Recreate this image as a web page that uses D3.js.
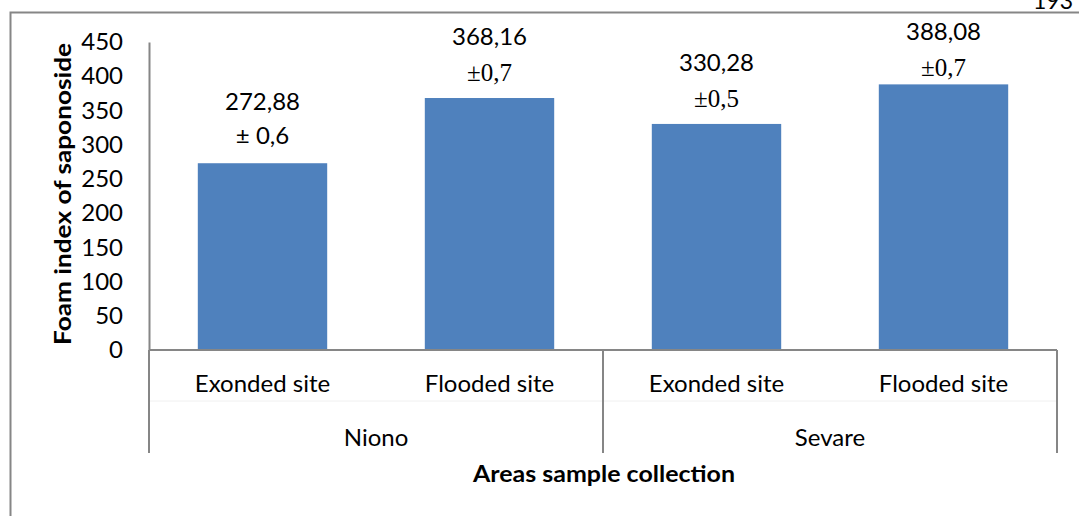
<!DOCTYPE html>
<html>
<head>
<meta charset="utf-8">
<script src="https://cdn.jsdelivr.net/npm/d3@7/dist/d3.min.js"></script>
<style>
  html, body { margin: 0; padding: 0; background: #fff; }
  svg { display: block; }
</style>
</head>
<body>
<svg id="chart" width="1079" height="516"></svg>
<script>
// Foam index of saponoside by sampling area and site type
const areas = ["Niono", "Sevare"];
const sites = ["Exonded site", "Flooded site", "Exonded site", "Flooded site"];
const siteArea = ["Niono", "Niono", "Sevare", "Sevare"];
const values = [272.88, 368.16, 330.28, 388.08];
const valueLabels = ["272,88", "368,16", "330,28", "388,08"];
const errorLabels = ["\u00b1 0,6", "\u00b10,7", "\u00b10,5", "\u00b10,7"];
const yTicks = [0, 50, 100, 150, 200, 250, 300, 350, 400, 450];

const svg = d3.select("#chart");
const sans = "Lato, 'Open Sans', sans-serif";
const serif = "'Liberation Serif', 'DejaVu Serif', serif";
const grey = "#868686";

// page number in the corner
svg.append("text")
  .attr("x", 1033).attr("y", 9)
  .attr("font-family", sans).attr("font-size", 23)
  .attr("fill", "#000").text("193");

// outer chart frame (runs past the right and bottom edges)
svg.append("rect")
  .attr("x", 10.5).attr("y", 12.5)
  .attr("width", 1200).attr("height", 700)
  .attr("fill", "none").attr("stroke", grey).attr("stroke-width", 2);

const plot = { left: 149, right: 1057, top: 42, bottom: 350 };

const x = d3.scaleBand()
  .domain(d3.range(values.length))
  .range([plot.left, plot.right])
  .paddingInner(0.43)
  .paddingOuter(0.215);

const y = d3.scaleLinear()
  .domain([0, 450])
  .range([plot.bottom, plot.top]);

// bars
svg.append("g").selectAll("rect")
  .data(values)
  .join("rect")
  .attr("x", (d, i) => x(i))
  .attr("y", d => y(d))
  .attr("width", x.bandwidth())
  .attr("height", d => y(0) - y(d))
  .attr("fill", "#4f81bd");

// y axis
const yAxis = svg.append("g")
  .attr("transform", `translate(${plot.left},0)`)
  .call(d3.axisLeft(y).tickValues(yTicks).tickSize(0).tickPadding(26));
yAxis.select(".domain").attr("stroke", grey).attr("stroke-width", 2);
yAxis.selectAll("text")
  .attr("font-family", sans).attr("font-size", 24).attr("fill", "#000");

// baseline
svg.append("line")
  .attr("x1", plot.left).attr("x2", plot.right)
  .attr("y1", y(0)).attr("y2", y(0))
  .attr("stroke", grey).attr("stroke-width", 2);

// faint separator between the two category rows
svg.append("line")
  .attr("x1", plot.left).attr("x2", plot.right)
  .attr("y1", 401).attr("y2", 401)
  .attr("stroke", "#f0f0f0").attr("stroke-width", 1);

// group dividers of the two-level category axis
const groupEdges = [plot.left];
areas.forEach((a, k) => {
  const last = d3.max(siteArea.map((s, i) => s === a ? i : -1));
  groupEdges.push(k === areas.length - 1
    ? plot.right
    : (x(last) + x.bandwidth() + x(last + 1)) / 2);
});
svg.append("g").selectAll("line")
  .data(groupEdges)
  .join("line")
  .attr("x1", d => d).attr("x2", d => d)
  .attr("y1", y(0)).attr("y2", 453)
  .attr("stroke", grey).attr("stroke-width", 2);

// site labels
svg.append("g").selectAll("text")
  .data(sites)
  .join("text")
  .attr("x", (d, i) => x(i) + x.bandwidth() / 2)
  .attr("y", 392)
  .attr("text-anchor", "middle")
  .attr("font-family", sans).attr("font-size", 24)
  .text(d => d);

// area labels
svg.append("g").selectAll("text")
  .data(areas)
  .join("text")
  .attr("x", (d, i) => (groupEdges[i] + groupEdges[i + 1]) / 2)
  .attr("y", 446)
  .attr("text-anchor", "middle")
  .attr("font-family", sans).attr("font-size", 24)
  .text(d => d);

// value labels above bars, kept below the top of the plot area
const labelShift = d => Math.max(0, 40 - (y(d) - 53));
svg.append("g").selectAll("text")
  .data(values)
  .join("text")
  .attr("x", (d, i) => x(i) + x.bandwidth() / 2)
  .attr("y", d => y(d) - 53 + labelShift(d))
  .attr("text-anchor", "middle")
  .attr("font-family", sans).attr("font-size", 24)
  .text((d, i) => valueLabels[i]);

svg.append("g").selectAll("text")
  .data(values)
  .join("text")
  .attr("x", (d, i) => x(i) + x.bandwidth() / 2)
  .attr("y", (d, i) => y(d) - (i === 0 ? 19 : 17) + labelShift(d))
  .attr("text-anchor", "middle")
  .attr("font-family", (d, i) => i === 0 ? sans : serif)
  .attr("font-size", (d, i) => i === 0 ? 24 : 25)
  .text((d, i) => errorLabels[i]);

// axis titles
svg.append("text")
  .attr("x", (plot.left + plot.right) / 2 + 1)
  .attr("y", 482)
  .attr("text-anchor", "middle")
  .attr("font-family", sans).attr("font-size", 23).attr("font-weight", "bold")
  .attr("textLength", 262).attr("lengthAdjust", "spacingAndGlyphs")
  .text("Areas sample collection");

svg.append("text")
  .attr("transform", `translate(71,${(plot.top + plot.bottom) / 2 - 2}) rotate(-90)`)
  .attr("text-anchor", "middle")
  .attr("font-family", sans).attr("font-size", 23).attr("font-weight", "bold")
  .attr("textLength", 302).attr("lengthAdjust", "spacingAndGlyphs")
  .text("Foam index of saponoside");
</script>
</body>
</html>
